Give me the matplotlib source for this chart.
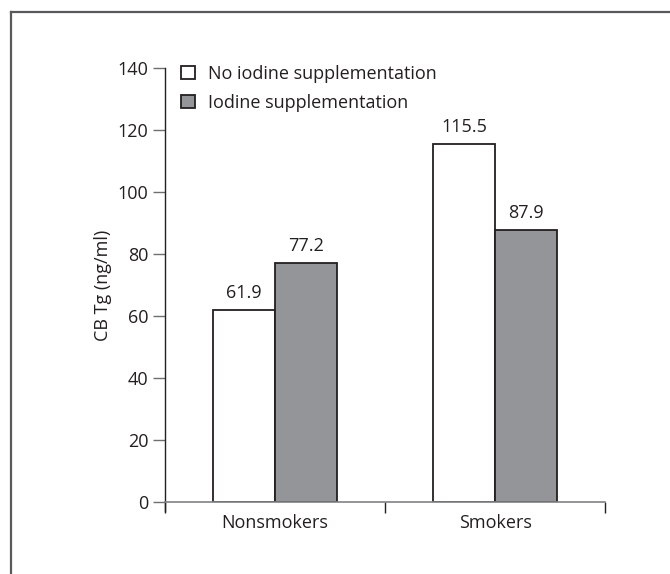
import numpy as np
from matplotlib import pyplot as plt
from matplotlib.lines import Line2D

plt.rcParams['font.family'] = ['Open Sans', 'DejaVu Sans']

groups = ['Nonsmokers', 'Smokers']
no_iodine = [61.9, 115.5]
iodine = [77.2, 87.9]
series_names = ['No iodine supplementation', 'Iodine supplementation']
yticks = [0, 20, 40, 60, 80, 100, 120, 140]

ink = '#231f20'
grey = '#939598'
fs = 13

fig = plt.figure(figsize=(6.7, 5.74), dpi=100)
ax = fig.add_axes([165 / 670, 1 - 502 / 574, 440 / 670, 434 / 574])

x = np.arange(len(groups))
w = 0.283
b1 = ax.bar(x - w / 2, no_iodine, w, color='white', edgecolor=ink, linewidth=1.3,
            label=series_names[0])
b2 = ax.bar(x + w / 2, iodine, w, color=grey, edgecolor=ink, linewidth=1.3,
            label=series_names[1])

for bars, vals in [(b1, no_iodine), (b2, iodine)]:
    for r, v in zip(bars, vals):
        ax.text(r.get_x() + r.get_width() / 2, v + 2.5, '%.1f' % v,
                ha='center', va='bottom', fontsize=fs, color=ink)

ax.set_xlim(-0.5, 1.5)
ax.set_ylim(0, 140)
ax.set_yticks(yticks)
ax.set_xticks([-0.5, 0.5, 1.5])
ax.set_xticklabels([])
ax.set_xticks(x, minor=True)
ax.set_xticklabels(groups, minor=True)
ax.tick_params(axis='x', which='minor', length=0, pad=9, labelsize=fs, colors=ink)
ax.tick_params(axis='x', which='major', length=8, width=1, color=ink)
ax.tick_params(axis='y', length=9, width=1, color='#6d6e71', labelsize=fs,
               labelcolor=ink, pad=3)

for s in ['top', 'right']:
    ax.spines[s].set_visible(False)
ax.spines['left'].set_color(ink)
ax.spines['left'].set_bounds(-3, 140)
ax.spines['bottom'].set_color('#808285')
ax.spines['left'].set_linewidth(1)
ax.spines['bottom'].set_linewidth(1.2)

ax.set_ylabel('CB Tg (ng/ml)', fontsize=fs, color=ink, labelpad=4)

ax.legend(loc='upper left', bbox_to_anchor=(0.0, 1.045), frameon=False,
          fontsize=fs, handlelength=0.75, handleheight=0.75, handletextpad=0.75,
          labelspacing=0.6, labelcolor=ink)

# outer frame (only top and left edges are visible in the picture)
fig.add_artist(Line2D([11 / 670, 1], [1 - 12 / 574, 1 - 12 / 574],
                      transform=fig.transFigure, color='#58595b', lw=1.6))
fig.add_artist(Line2D([11 / 670, 11 / 670], [0, 1 - 12 / 574],
                      transform=fig.transFigure, color='#58595b', lw=1.6))

fig.savefig('out.png', dpi=100)
